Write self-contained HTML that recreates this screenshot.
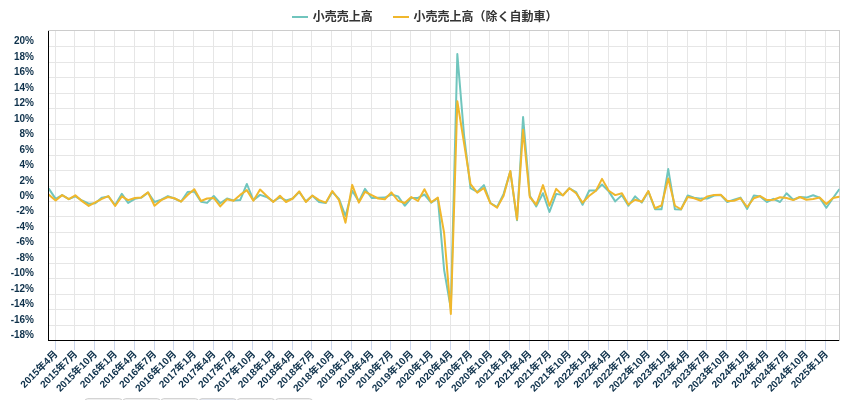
<!DOCTYPE html>
<html><head><meta charset="utf-8"><title>chart</title>
<style>html,body{margin:0;padding:0;background:#fff;overflow:hidden}body{width:850px;height:400px;position:relative}</style></head>
<body>
<svg width="850" height="400" viewBox="0 0 850 400" style="position:absolute;left:0;top:0;will-change:transform;font-family:'Liberation Sans','Noto Sans CJK JP',sans-serif;font-weight:bold">
<g shape-rendering="crispEdges">
<rect x="49" y="46" width="790" height="1" fill="#e6e6e6"/>
<rect x="49" y="62" width="790" height="1" fill="#e6e6e6"/>
<rect x="49" y="77" width="790" height="1" fill="#e6e6e6"/>
<rect x="49" y="93" width="790" height="1" fill="#e6e6e6"/>
<rect x="49" y="108" width="790" height="1" fill="#e6e6e6"/>
<rect x="49" y="124" width="790" height="1" fill="#e6e6e6"/>
<rect x="49" y="139" width="790" height="1" fill="#e6e6e6"/>
<rect x="49" y="155" width="790" height="1" fill="#e6e6e6"/>
<rect x="49" y="170" width="790" height="1" fill="#e6e6e6"/>
<rect x="49" y="186" width="790" height="1" fill="#e6e6e6"/>
<rect x="49" y="201" width="790" height="1" fill="#e6e6e6"/>
<rect x="49" y="216" width="790" height="1" fill="#e6e6e6"/>
<rect x="49" y="232" width="790" height="1" fill="#e6e6e6"/>
<rect x="49" y="247" width="790" height="1" fill="#e6e6e6"/>
<rect x="49" y="263" width="790" height="1" fill="#e6e6e6"/>
<rect x="49" y="278" width="790" height="1" fill="#e6e6e6"/>
<rect x="49" y="294" width="790" height="1" fill="#e6e6e6"/>
<rect x="49" y="309" width="790" height="1" fill="#e6e6e6"/>
<rect x="49" y="325" width="790" height="1" fill="#e6e6e6"/>
<rect x="55" y="31" width="1" height="309" fill="#e6e6e6"/>
<rect x="55" y="341" width="1" height="9" fill="#ccd6eb"/>
<rect x="74" y="31" width="1" height="309" fill="#e6e6e6"/>
<rect x="74" y="341" width="1" height="9" fill="#ccd6eb"/>
<rect x="94" y="31" width="1" height="309" fill="#e6e6e6"/>
<rect x="94" y="341" width="1" height="9" fill="#ccd6eb"/>
<rect x="114" y="31" width="1" height="309" fill="#e6e6e6"/>
<rect x="114" y="341" width="1" height="9" fill="#ccd6eb"/>
<rect x="134" y="31" width="1" height="309" fill="#e6e6e6"/>
<rect x="134" y="341" width="1" height="9" fill="#ccd6eb"/>
<rect x="154" y="31" width="1" height="309" fill="#e6e6e6"/>
<rect x="154" y="341" width="1" height="9" fill="#ccd6eb"/>
<rect x="173" y="31" width="1" height="309" fill="#e6e6e6"/>
<rect x="173" y="341" width="1" height="9" fill="#ccd6eb"/>
<rect x="193" y="31" width="1" height="309" fill="#e6e6e6"/>
<rect x="193" y="341" width="1" height="9" fill="#ccd6eb"/>
<rect x="213" y="31" width="1" height="309" fill="#e6e6e6"/>
<rect x="213" y="341" width="1" height="9" fill="#ccd6eb"/>
<rect x="232" y="31" width="1" height="309" fill="#e6e6e6"/>
<rect x="232" y="341" width="1" height="9" fill="#ccd6eb"/>
<rect x="252" y="31" width="1" height="309" fill="#e6e6e6"/>
<rect x="252" y="341" width="1" height="9" fill="#ccd6eb"/>
<rect x="272" y="31" width="1" height="309" fill="#e6e6e6"/>
<rect x="272" y="341" width="1" height="9" fill="#ccd6eb"/>
<rect x="292" y="31" width="1" height="309" fill="#e6e6e6"/>
<rect x="292" y="341" width="1" height="9" fill="#ccd6eb"/>
<rect x="311" y="31" width="1" height="309" fill="#e6e6e6"/>
<rect x="311" y="341" width="1" height="9" fill="#ccd6eb"/>
<rect x="331" y="31" width="1" height="309" fill="#e6e6e6"/>
<rect x="331" y="341" width="1" height="9" fill="#ccd6eb"/>
<rect x="351" y="31" width="1" height="309" fill="#e6e6e6"/>
<rect x="351" y="341" width="1" height="9" fill="#ccd6eb"/>
<rect x="371" y="31" width="1" height="309" fill="#e6e6e6"/>
<rect x="371" y="341" width="1" height="9" fill="#ccd6eb"/>
<rect x="390" y="31" width="1" height="309" fill="#e6e6e6"/>
<rect x="390" y="341" width="1" height="9" fill="#ccd6eb"/>
<rect x="410" y="31" width="1" height="309" fill="#e6e6e6"/>
<rect x="410" y="341" width="1" height="9" fill="#ccd6eb"/>
<rect x="430" y="31" width="1" height="309" fill="#e6e6e6"/>
<rect x="430" y="341" width="1" height="9" fill="#ccd6eb"/>
<rect x="450" y="31" width="1" height="309" fill="#e6e6e6"/>
<rect x="450" y="341" width="1" height="9" fill="#ccd6eb"/>
<rect x="469" y="31" width="1" height="309" fill="#e6e6e6"/>
<rect x="469" y="341" width="1" height="9" fill="#ccd6eb"/>
<rect x="489" y="31" width="1" height="309" fill="#e6e6e6"/>
<rect x="489" y="341" width="1" height="9" fill="#ccd6eb"/>
<rect x="509" y="31" width="1" height="309" fill="#e6e6e6"/>
<rect x="509" y="341" width="1" height="9" fill="#ccd6eb"/>
<rect x="529" y="31" width="1" height="309" fill="#e6e6e6"/>
<rect x="529" y="341" width="1" height="9" fill="#ccd6eb"/>
<rect x="548" y="31" width="1" height="309" fill="#e6e6e6"/>
<rect x="548" y="341" width="1" height="9" fill="#ccd6eb"/>
<rect x="568" y="31" width="1" height="309" fill="#e6e6e6"/>
<rect x="568" y="341" width="1" height="9" fill="#ccd6eb"/>
<rect x="588" y="31" width="1" height="309" fill="#e6e6e6"/>
<rect x="588" y="341" width="1" height="9" fill="#ccd6eb"/>
<rect x="608" y="31" width="1" height="309" fill="#e6e6e6"/>
<rect x="608" y="341" width="1" height="9" fill="#ccd6eb"/>
<rect x="627" y="31" width="1" height="309" fill="#e6e6e6"/>
<rect x="627" y="341" width="1" height="9" fill="#ccd6eb"/>
<rect x="647" y="31" width="1" height="309" fill="#e6e6e6"/>
<rect x="647" y="341" width="1" height="9" fill="#ccd6eb"/>
<rect x="667" y="31" width="1" height="309" fill="#e6e6e6"/>
<rect x="667" y="341" width="1" height="9" fill="#ccd6eb"/>
<rect x="687" y="31" width="1" height="309" fill="#e6e6e6"/>
<rect x="687" y="341" width="1" height="9" fill="#ccd6eb"/>
<rect x="706" y="31" width="1" height="309" fill="#e6e6e6"/>
<rect x="706" y="341" width="1" height="9" fill="#ccd6eb"/>
<rect x="726" y="31" width="1" height="309" fill="#e6e6e6"/>
<rect x="726" y="341" width="1" height="9" fill="#ccd6eb"/>
<rect x="746" y="31" width="1" height="309" fill="#e6e6e6"/>
<rect x="746" y="341" width="1" height="9" fill="#ccd6eb"/>
<rect x="766" y="31" width="1" height="309" fill="#e6e6e6"/>
<rect x="766" y="341" width="1" height="9" fill="#ccd6eb"/>
<rect x="785" y="31" width="1" height="309" fill="#e6e6e6"/>
<rect x="785" y="341" width="1" height="9" fill="#ccd6eb"/>
<rect x="805" y="31" width="1" height="309" fill="#e6e6e6"/>
<rect x="805" y="341" width="1" height="9" fill="#ccd6eb"/>
<rect x="825" y="31" width="1" height="309" fill="#e6e6e6"/>
<rect x="825" y="341" width="1" height="9" fill="#ccd6eb"/>
<rect x="48" y="30" width="792" height="1" fill="#cccccc"/>
<rect x="839" y="30" width="1" height="311" fill="#cccccc"/>
<rect x="48" y="31" width="1" height="310" fill="#000"/>
<rect x="48" y="340" width="791" height="1" fill="#000"/>
</g>
<g clip-path="url(#clip)">
<polyline points="48.95,188.88 55.66,198.88 62.14,195.12 68.85,199.12 75.34,196.38 82.04,200.50 88.75,203.75 95.24,203.25 101.94,197.62 108.43,196.50 115.14,205.00 121.84,193.88 128.12,202.88 134.82,198.88 141.31,197.62 148.02,192.62 154.51,202.00 161.21,199.75 167.92,196.12 174.40,198.50 181.11,201.50 187.60,192.00 194.30,191.38 201.01,201.75 207.07,202.88 213.77,196.00 220.26,203.25 226.97,198.50 233.46,200.50 240.16,200.12 246.87,184.00 253.36,200.12 260.06,194.88 266.55,197.00 273.25,201.38 279.96,197.38 286.02,200.38 292.72,198.50 299.21,192.00 305.92,201.38 312.41,195.75 319.11,202.00 325.82,203.00 332.31,192.00 339.01,198.88 345.50,216.00 352.20,190.75 358.91,201.38 364.97,188.88 371.67,198.00 378.16,197.75 384.87,197.62 391.36,194.50 398.06,196.38 404.77,205.75 411.26,198.00 417.96,197.88 424.45,194.50 431.16,202.62 437.86,198.25 444.13,270.00 450.84,308.50 457.33,54.10 464.03,135.00 470.52,188.25 477.23,192.00 483.93,185.12 490.42,203.00 497.13,207.00 503.62,193.88 510.32,171.30 517.03,220.20 523.08,117.00 529.79,195.75 536.28,206.38 542.98,193.25 549.47,212.00 556.18,193.88 562.88,195.12 569.37,188.25 576.08,192.00 582.57,204.75 589.27,190.50 595.98,190.50 602.03,184.50 608.74,191.38 615.23,201.38 621.93,195.12 628.42,205.75 635.13,196.38 641.83,202.62 648.32,191.38 655.03,209.25 661.52,209.25 668.22,169.10 674.93,209.25 680.98,209.50 687.69,195.50 694.18,197.62 700.88,198.62 707.37,198.50 714.08,195.50 720.78,195.12 727.27,202.00 733.98,199.75 740.47,197.62 747.17,208.88 753.88,195.50 760.15,196.38 766.86,202.00 773.34,198.88 780.05,202.00 786.54,193.25 793.24,199.75 799.95,197.00 806.44,197.62 813.14,195.30 819.63,197.60 826.34,207.80 833.04,198.00 839.10,189.50" fill="none" stroke="#70c5bd" stroke-width="2" stroke-linejoin="round" stroke-linecap="round"/>
<polyline points="48.95,194.88 55.66,200.50 62.14,195.12 68.85,199.12 75.34,195.38 82.04,201.12 88.75,205.88 95.24,202.38 101.94,198.88 108.43,196.12 115.14,206.00 121.84,196.38 128.12,200.12 134.82,198.00 141.31,197.38 148.02,192.25 154.51,205.75 161.21,200.12 167.92,197.00 174.40,198.25 181.11,201.62 187.60,195.12 194.30,189.25 201.01,201.00 207.07,198.50 213.77,198.00 220.26,206.38 226.97,199.25 233.46,200.75 240.16,194.88 246.87,190.12 253.36,200.75 260.06,189.50 266.55,195.75 273.25,202.00 279.96,195.75 286.02,202.00 292.72,198.50 299.21,191.38 305.92,202.00 312.41,195.50 319.11,200.12 325.82,202.62 332.31,191.00 339.01,200.12 345.50,222.70 352.20,184.88 358.91,202.62 364.97,191.75 371.67,195.12 378.16,198.50 384.87,199.25 391.36,192.38 398.06,200.75 404.77,203.00 411.26,197.00 417.96,201.00 424.45,189.25 431.16,202.25 437.86,197.62 444.13,233.00 450.84,314.00 457.33,101.25 464.03,143.00 470.52,184.12 477.23,192.62 483.93,188.00 490.42,203.25 497.13,207.62 503.62,195.75 510.32,171.00 517.03,219.40 523.08,129.75 529.79,197.00 536.28,204.75 542.98,185.12 549.47,205.75 556.18,188.88 562.88,195.50 569.37,188.25 576.08,193.25 582.57,202.62 589.27,195.75 595.98,190.75 602.03,178.88 608.74,190.75 615.23,195.12 621.93,193.25 628.42,204.50 635.13,199.75 641.83,201.75 648.32,191.00 655.03,208.25 661.52,205.50 668.22,178.50 674.93,205.75 680.98,209.25 687.69,197.00 694.18,198.25 700.88,200.75 707.37,196.38 714.08,194.88 720.78,194.75 727.27,201.00 733.98,200.75 740.47,198.25 747.17,207.00 753.88,198.25 760.15,196.00 766.86,200.12 773.34,199.75 780.05,197.25 786.54,198.00 793.24,200.12 799.95,197.00 806.44,199.75 813.14,198.90 819.63,197.60 826.34,203.90 833.04,198.00 839.10,196.70" fill="none" stroke="#f0b72c" stroke-width="2" stroke-linejoin="round" stroke-linecap="round"/>
</g>
<defs><clipPath id="clip"><rect x="49" y="30" width="790.5" height="310"/></clipPath></defs>
<text x="34.00" y="44" font-size="10" text-anchor="end" fill="#0e314b">20%</text>
<text x="34.00" y="60" font-size="10" text-anchor="end" fill="#0e314b">18%</text>
<text x="34.00" y="75" font-size="10" text-anchor="end" fill="#0e314b">16%</text>
<text x="34.00" y="91" font-size="10" text-anchor="end" fill="#0e314b">14%</text>
<text x="34.00" y="106" font-size="10" text-anchor="end" fill="#0e314b">12%</text>
<text x="34.00" y="122" font-size="10" text-anchor="end" fill="#0e314b">10%</text>
<text x="34.00" y="137" font-size="10" text-anchor="end" fill="#0e314b">8%</text>
<text x="34.00" y="153" font-size="10" text-anchor="end" fill="#0e314b">6%</text>
<text x="34.00" y="168" font-size="10" text-anchor="end" fill="#0e314b">4%</text>
<text x="34.00" y="184" font-size="10" text-anchor="end" fill="#0e314b">2%</text>
<text x="34.00" y="199" font-size="10" text-anchor="end" fill="#0e314b">0%</text>
<text x="34.00" y="214" font-size="10" text-anchor="end" fill="#0e314b">-2%</text>
<text x="34.00" y="230" font-size="10" text-anchor="end" fill="#0e314b">-4%</text>
<text x="34.00" y="245" font-size="10" text-anchor="end" fill="#0e314b">-6%</text>
<text x="34.00" y="261" font-size="10" text-anchor="end" fill="#0e314b">-8%</text>
<text x="34.00" y="276" font-size="10" text-anchor="end" fill="#0e314b">-10%</text>
<text x="34.00" y="292" font-size="10" text-anchor="end" fill="#0e314b">-12%</text>
<text x="34.00" y="307" font-size="10" text-anchor="end" fill="#0e314b">-14%</text>
<text x="34.00" y="323" font-size="10" text-anchor="end" fill="#0e314b">-16%</text>
<text x="34.00" y="338" font-size="10" text-anchor="end" fill="#0e314b">-18%</text>
<g transform="translate(58.30 354.60) rotate(-45)"><text x="0" y="0" font-size="10" text-anchor="end" fill="#0e314b">2015年4月</text></g>
<g transform="translate(77.98 354.60) rotate(-45)"><text x="0" y="0" font-size="10" text-anchor="end" fill="#0e314b">2015年7月</text></g>
<g transform="translate(97.88 354.60) rotate(-45)"><text x="0" y="0" font-size="10" text-anchor="end" fill="#0e314b">2015年10月</text></g>
<g transform="translate(117.77 354.60) rotate(-45)"><text x="0" y="0" font-size="10" text-anchor="end" fill="#0e314b">2016年1月</text></g>
<g transform="translate(137.45 354.60) rotate(-45)"><text x="0" y="0" font-size="10" text-anchor="end" fill="#0e314b">2016年4月</text></g>
<g transform="translate(157.13 354.60) rotate(-45)"><text x="0" y="0" font-size="10" text-anchor="end" fill="#0e314b">2016年7月</text></g>
<g transform="translate(177.03 354.60) rotate(-45)"><text x="0" y="0" font-size="10" text-anchor="end" fill="#0e314b">2016年10月</text></g>
<g transform="translate(196.92 354.60) rotate(-45)"><text x="0" y="0" font-size="10" text-anchor="end" fill="#0e314b">2017年1月</text></g>
<g transform="translate(216.38 354.60) rotate(-45)"><text x="0" y="0" font-size="10" text-anchor="end" fill="#0e314b">2017年4月</text></g>
<g transform="translate(236.06 354.60) rotate(-45)"><text x="0" y="0" font-size="10" text-anchor="end" fill="#0e314b">2017年7月</text></g>
<g transform="translate(255.96 354.60) rotate(-45)"><text x="0" y="0" font-size="10" text-anchor="end" fill="#0e314b">2017年10月</text></g>
<g transform="translate(275.85 354.60) rotate(-45)"><text x="0" y="0" font-size="10" text-anchor="end" fill="#0e314b">2018年1月</text></g>
<g transform="translate(295.31 354.60) rotate(-45)"><text x="0" y="0" font-size="10" text-anchor="end" fill="#0e314b">2018年4月</text></g>
<g transform="translate(314.99 354.60) rotate(-45)"><text x="0" y="0" font-size="10" text-anchor="end" fill="#0e314b">2018年7月</text></g>
<g transform="translate(334.89 354.60) rotate(-45)"><text x="0" y="0" font-size="10" text-anchor="end" fill="#0e314b">2018年10月</text></g>
<g transform="translate(354.78 354.60) rotate(-45)"><text x="0" y="0" font-size="10" text-anchor="end" fill="#0e314b">2019年1月</text></g>
<g transform="translate(374.25 354.60) rotate(-45)"><text x="0" y="0" font-size="10" text-anchor="end" fill="#0e314b">2019年4月</text></g>
<g transform="translate(393.92 354.60) rotate(-45)"><text x="0" y="0" font-size="10" text-anchor="end" fill="#0e314b">2019年7月</text></g>
<g transform="translate(413.82 354.60) rotate(-45)"><text x="0" y="0" font-size="10" text-anchor="end" fill="#0e314b">2019年10月</text></g>
<g transform="translate(433.71 354.60) rotate(-45)"><text x="0" y="0" font-size="10" text-anchor="end" fill="#0e314b">2020年1月</text></g>
<g transform="translate(453.39 354.60) rotate(-45)"><text x="0" y="0" font-size="10" text-anchor="end" fill="#0e314b">2020年4月</text></g>
<g transform="translate(473.07 354.60) rotate(-45)"><text x="0" y="0" font-size="10" text-anchor="end" fill="#0e314b">2020年7月</text></g>
<g transform="translate(492.97 354.60) rotate(-45)"><text x="0" y="0" font-size="10" text-anchor="end" fill="#0e314b">2020年10月</text></g>
<g transform="translate(512.86 354.60) rotate(-45)"><text x="0" y="0" font-size="10" text-anchor="end" fill="#0e314b">2021年1月</text></g>
<g transform="translate(532.32 354.60) rotate(-45)"><text x="0" y="0" font-size="10" text-anchor="end" fill="#0e314b">2021年4月</text></g>
<g transform="translate(552.00 354.60) rotate(-45)"><text x="0" y="0" font-size="10" text-anchor="end" fill="#0e314b">2021年7月</text></g>
<g transform="translate(571.90 354.60) rotate(-45)"><text x="0" y="0" font-size="10" text-anchor="end" fill="#0e314b">2021年10月</text></g>
<g transform="translate(591.79 354.60) rotate(-45)"><text x="0" y="0" font-size="10" text-anchor="end" fill="#0e314b">2022年1月</text></g>
<g transform="translate(611.25 354.60) rotate(-45)"><text x="0" y="0" font-size="10" text-anchor="end" fill="#0e314b">2022年4月</text></g>
<g transform="translate(630.93 354.60) rotate(-45)"><text x="0" y="0" font-size="10" text-anchor="end" fill="#0e314b">2022年7月</text></g>
<g transform="translate(650.83 354.60) rotate(-45)"><text x="0" y="0" font-size="10" text-anchor="end" fill="#0e314b">2022年10月</text></g>
<g transform="translate(670.72 354.60) rotate(-45)"><text x="0" y="0" font-size="10" text-anchor="end" fill="#0e314b">2023年1月</text></g>
<g transform="translate(690.19 354.60) rotate(-45)"><text x="0" y="0" font-size="10" text-anchor="end" fill="#0e314b">2023年4月</text></g>
<g transform="translate(709.87 354.60) rotate(-45)"><text x="0" y="0" font-size="10" text-anchor="end" fill="#0e314b">2023年7月</text></g>
<g transform="translate(729.76 354.60) rotate(-45)"><text x="0" y="0" font-size="10" text-anchor="end" fill="#0e314b">2023年10月</text></g>
<g transform="translate(749.65 354.60) rotate(-45)"><text x="0" y="0" font-size="10" text-anchor="end" fill="#0e314b">2024年1月</text></g>
<g transform="translate(769.33 354.60) rotate(-45)"><text x="0" y="0" font-size="10" text-anchor="end" fill="#0e314b">2024年4月</text></g>
<g transform="translate(789.01 354.60) rotate(-45)"><text x="0" y="0" font-size="10" text-anchor="end" fill="#0e314b">2024年7月</text></g>
<g transform="translate(808.91 354.60) rotate(-45)"><text x="0" y="0" font-size="10" text-anchor="end" fill="#0e314b">2024年10月</text></g>
<g transform="translate(828.80 354.60) rotate(-45)"><text x="0" y="0" font-size="10" text-anchor="end" fill="#0e314b">2025年1月</text></g>
<rect x="292" y="16" width="16" height="2" fill="#70c5bd"/>
<text x="312.7" y="21" font-size="12" fill="#333333">小売売上高</text>
<rect x="393" y="16" width="16" height="2" fill="#f0b72c"/>
<text x="413.5" y="21" font-size="12" fill="#333333">小売売上高（除く自動車）</text>
<rect x="84.8" y="398.7" width="37.5" height="20" rx="3" ry="3" fill="#f7f7f7" stroke="#cccccc" stroke-width="1"/>
<rect x="122.8" y="398.7" width="37.5" height="20" rx="3" ry="3" fill="#f7f7f7" stroke="#cccccc" stroke-width="1"/>
<rect x="160.8" y="398.7" width="37.7" height="20" rx="3" ry="3" fill="#f7f7f7" stroke="#cccccc" stroke-width="1"/>
<rect x="199.0" y="398.7" width="37.5" height="20" rx="3" ry="3" fill="#e6ebf5" stroke="#cccccc" stroke-width="1"/>
<rect x="237.0" y="398.7" width="37.8" height="20" rx="3" ry="3" fill="#f7f7f7" stroke="#cccccc" stroke-width="1"/>
<rect x="275.3" y="398.7" width="37.2" height="20" rx="3" ry="3" fill="#f7f7f7" stroke="#cccccc" stroke-width="1"/>
</svg>
</body></html>
